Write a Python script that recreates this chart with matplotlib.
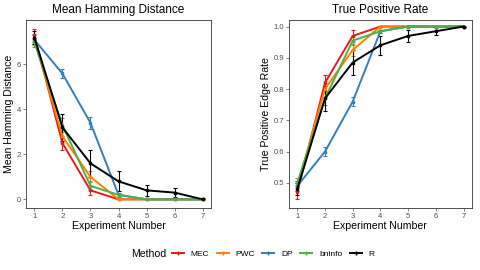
import numpy as np
import matplotlib.pyplot as plt
from matplotlib.lines import Line2D

plt.rcParams['font.family'] = ['Liberation Sans', 'DejaVu Sans']

experiments = [1, 2, 3, 4, 5, 6, 7]
methods = ['MEC', 'PWC', 'DP', 'bninfo', 'R']
colors = ['#E41A1C', '#FF7F00', '#377EB8', '#4DAF4A', '#000000']

# mean hamming distance
mhd = {
    'MEC':    [7.3, 2.5, 0.4, 0.0, 0.0, 0.0, 0.0],
    'PWC':    [7.1, 2.8, 1.0, 0.0, 0.0, 0.0, 0.0],
    'DP':     [7.1, 5.6, 3.4, 0.2, 0.0, 0.0, 0.0],
    'bninfo': [7.0, 3.3, 0.6, 0.2, 0.0, 0.0, 0.0],
    'R':      [7.2, 3.2, 1.6, 0.8, 0.4, 0.3, 0.0],
}
mhd_err = {
    'MEC':    [0.3, 0.3, 0.2, 0.0, 0.0, 0.0, 0.0],
    'PWC':    [0.25, 0.3, 0.25, 0.0, 0.0, 0.0, 0.0],
    'DP':     [0.2, 0.2, 0.25, 0.1, 0.0, 0.0, 0.0],
    'bninfo': [0.2, 0.3, 0.2, 0.1, 0.0, 0.0, 0.0],
    'R':      [0.3, 0.6, 0.6, 0.45, 0.25, 0.2, 0.0],
}

# true positive edge rate
tpr = {
    'MEC':    [0.47, 0.82, 0.97, 1.0, 1.0, 1.0, 1.0],
    'PWC':    [0.49, 0.80, 0.925, 1.0, 1.0, 1.0, 1.0],
    'DP':     [0.49, 0.60, 0.76, 0.985, 1.0, 1.0, 1.0],
    'bninfo': [0.50, 0.77, 0.955, 0.985, 1.0, 1.0, 1.0],
    'R':      [0.48, 0.77, 0.885, 0.94, 0.97, 0.985, 1.0],
}
tpr_err = {
    'MEC':    [0.02, 0.025, 0.02, 0.0, 0.0, 0.0, 0.0],
    'PWC':    [0.015, 0.025, 0.02, 0.0, 0.0, 0.0, 0.0],
    'DP':     [0.015, 0.015, 0.015, 0.005, 0.0, 0.0, 0.0],
    'bninfo': [0.015, 0.02, 0.015, 0.005, 0.0, 0.0, 0.0],
    'R':      [0.02, 0.04, 0.04, 0.03, 0.02, 0.012, 0.0],
}

fig = plt.figure(figsize=(4.8, 2.7), dpi=100)
ax1 = fig.add_axes([0.054, 0.23, 0.386, 0.696])
ax2 = fig.add_axes([0.602, 0.23, 0.381, 0.696])


def panel(ax, vals, errs, title, ylabel, ylim, yticks, yfmt):
    for m, c in zip(methods, colors):
        ax.errorbar(experiments, vals[m], yerr=errs[m], color=c, lw=1.4,
                    marker='s', ms=1.5, capsize=1.3, elinewidth=0.8,
                    capthick=0.8, ecolor=c)
    ax.set_title(title, fontsize=8.5, pad=5)
    ax.set_xlabel('Experiment Number', fontsize=7.6, labelpad=1)
    ax.set_ylabel(ylabel, fontsize=7.6, labelpad=2)
    ax.set_xlim(0.7, 7.3)
    ax.set_ylim(*ylim)
    ax.set_xticks(experiments)
    ax.set_yticks(yticks)
    ax.set_yticklabels([yfmt.format(v) for v in yticks])
    ax.tick_params(labelsize=5.5, colors='#4D4D4D', length=2, width=0.5, pad=1.5)
    for s in ax.spines.values():
        s.set_color('#333333')
        s.set_linewidth(0.6)


panel(ax1, mhd, mhd_err, 'Mean Hamming Distance', 'Mean Hamming Distance',
      (-0.38, 7.98), [0, 2, 4, 6], '{:.0f}')
panel(ax2, tpr, tpr_err, 'True Positive Rate', 'True Positive Edge Rate',
      (0.42, 1.021), [0.5, 0.6, 0.7, 0.8, 0.9, 1.0], '{:.1f}')

fig.text(0.273, 0.058, 'Method', fontsize=7.6, va='center')
handles = [Line2D([0], [0], color=c, lw=1.4, marker='+', ms=3) for c in colors]
fig.legend(handles, methods, loc='center left', bbox_to_anchor=(0.358, 0.058),
           ncol=5, frameon=False, fontsize=6, handlelength=1.45,
           handletextpad=0.8, columnspacing=0.9, borderaxespad=0, borderpad=0)

fig.savefig('out.png', dpi=100)
